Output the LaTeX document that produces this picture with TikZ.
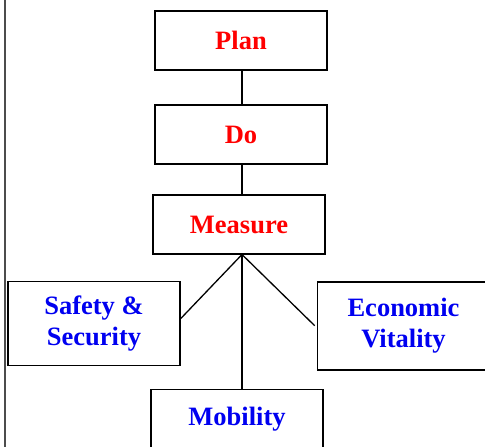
\documentclass[tikz,border=0pt]{standalone}
\usepackage{fontspec}
\setmainfont{Liberation Serif}
\definecolor{stepred}{RGB}{255,0,0}
\definecolor{goalblue}{RGB}{0,0,240}
\tikzset{
	box/.style={draw,line width=1.6pt,minimum width=172pt,minimum height=59pt,align=center,inner sep=2pt,
		font=\fontsize{26.5}{31}\selectfont\bfseries},
	stage/.style={box,text=stepred},
	goal/.style={box,text=goalblue},
	link/.style={line width=1.3pt}
}
\begin{document}
\begin{tikzpicture}[x=1pt,y=-1pt]
		\useasboundingbox (0,0) rectangle (485,447);
		\clip (0,0) rectangle (485,447);
		\draw[line width=1.3pt,black!70] (5,0) -- (5,447);
		\node[stage] (plan) at (241,40.5) {Plan};
		\node[stage] (do) at (241,134.5) {Do};
		\node[stage] (measure) at (239,224.5) {Measure};
		\node[goal,minimum height=84pt] (safety) at (94,323.5) {Safety \&\\Security};
		\node[goal,minimum height=88pt] (econ) at (403.5,325.7) {Economic\\Vitality};
		\node[goal] (mobility) at (237,419) {Mobility};
		\coordinate (hub) at (242,254.5);
		\draw[link] (plan.south -| hub) -- (do.north -| hub);
		\draw[link] (do.south -| hub) -- (measure.north -| hub);
		\draw[link] (hub) -- ([yshift=5pt]safety.east);
		\draw[link] (hub) -- ([xshift=-2pt]econ.west);
		\draw[link] (hub) -- (mobility.north -| hub);
	\end{tikzpicture}
\end{document}
